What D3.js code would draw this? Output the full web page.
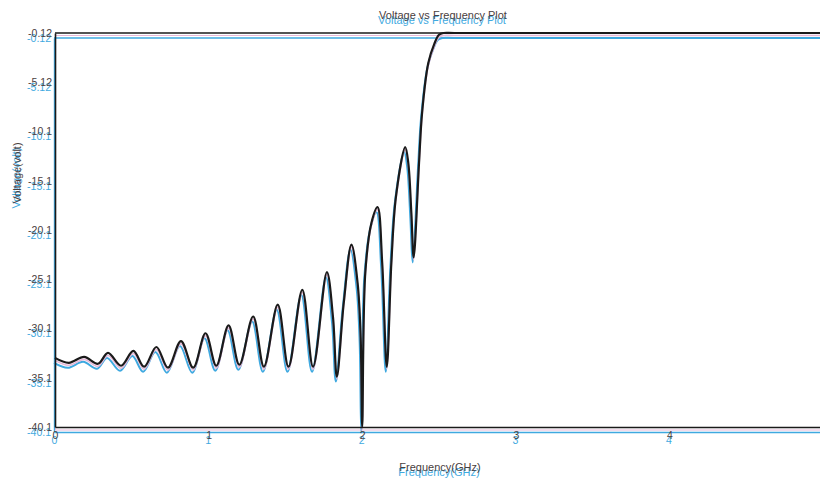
<!DOCTYPE html>
<html>
<head>
<meta charset="utf-8">
<script src="https://cdn.jsdelivr.net/npm/d3@7"></script>
<style>
  body { margin: 0; background: #fff; }
  text { font-family: "Liberation Sans Narrow", "Arial Narrow", "Liberation Sans", Arial, sans-serif; }
</style>
</head>
<body>
<svg id="chart"></svg>
<script>
const width = 820;
const height = 480;

// frequency (GHz) and voltage (volt)
const freq = [0, 0.09, 0.19, 0.28, 0.345, 0.43, 0.51, 0.58, 0.66, 0.735, 0.82, 0.90, 0.98, 1.05,
              1.13, 1.20, 1.29, 1.36, 1.45, 1.52, 1.61, 1.68, 1.77, 1.81, 1.835, 1.88, 1.93, 1.97,
              1.99, 2.00, 2.02, 2.06, 2.10, 2.13, 2.16, 2.19, 2.22, 2.28, 2.30, 2.32, 2.335, 2.37,
              2.39, 2.43, 2.47, 2.50, 2.53, 2.6, 5.0];
const volt = [-33.1, -33.6, -33.0, -33.7, -32.6, -33.9, -32.4, -34.0, -32.0, -34.1, -31.4, -34.1, -30.6, -33.9,
              -29.8, -33.8, -28.9, -34.0, -27.7, -34.0, -26.2, -34.0, -24.4, -29.0, -35.0, -27.5, -21.6, -25.5,
              -31.0, -40.1, -24.5, -19.4, -17.8, -23.4, -34.0, -23.4, -16.7, -11.7, -13.3, -18.4, -22.9, -13.3,
              -8.2, -3.2, -1.2, -0.3, -0.12, -0.12, -0.12];

const yTicks = [-0.12, -5.12, -10.12, -15.12, -20.12, -25.12, -30.12, -35.12, -40.12];
const yTickLabels = ['-0.12', '-5.12', '-10.1', '-15.1', '-20.1', '-25.1', '-30.1', '-35.1', '-40.1'];
const xTicks = [0, 1, 2, 3, 4];

const svg = d3.select('#chart').attr('width', width).attr('height', height);

const x = d3.scaleLinear().domain([0, 5]).range([55, 823]);
const y = d3.scaleLinear().domain([-40.12, -0.12]).range([427, 33]);

const line = d3.line()
    .x((d, i) => x(freq[i]))
    .y(d => y(d))
    .curve(d3.curveCatmullRom.alpha(0.5));

// the scan is misregistered: a cyan copy sits a few pixels under the dark print
function drawLayer(dx, dy, lineColor, textColor, lw, withText) {
    const g = svg.append('g').attr('transform', `translate(${dx},${dy})`);

    // top frame line
    g.append('line')
        .attr('x1', x(0)).attr('x2', width + 5)
        .attr('y1', y(-0.12)).attr('y2', y(-0.12))
        .attr('stroke', lineColor).attr('stroke-width', lw);

    const yAxis = g.append('g').attr('transform', `translate(${x(0)},0)`)
        .call(d3.axisLeft(y).tickValues(yTicks).tickFormat((d, i) => withText ? yTickLabels[i] : '')
            .tickSize(0).tickPadding(3));
    yAxis.select('.domain').attr('stroke', lineColor).attr('stroke-width', lw);
    yAxis.selectAll('text').attr('fill', textColor).attr('font-size', 10.5)
        .attr('font-family', null);

    const xAxis = g.append('g').attr('transform', `translate(0,${y(-40.12)})`)
        .call(d3.axisBottom(x).tickValues(xTicks).tickFormat(d => withText ? d3.format('d')(d) : '')
            .tickSize(0).tickPadding(5));
    xAxis.select('.domain').attr('stroke', lineColor).attr('stroke-width', lw);
    xAxis.selectAll('text').attr('fill', textColor).attr('font-size', 10.5)
        .attr('font-family', null);

    g.append('path')
        .datum(volt)
        .attr('fill', 'none')
        .attr('stroke', lineColor)
        .attr('stroke-width', lw + 0.6)
        .attr('stroke-linejoin', 'round')
        .attr('d', line);

    if (!withText) return;

    g.append('text')
        .attr('x', 443).attr('y', 19)
        .attr('text-anchor', 'middle')
        .attr('font-size', 11)
        .attr('fill', textColor)
        .text('Voltage vs Frequency Plot');

    g.append('text')
        .attr('transform', 'translate(21,173) rotate(-90)')
        .attr('text-anchor', 'middle')
        .attr('font-size', 11)
        .attr('fill', textColor)
        .text('Voltage(volt)');

    g.append('text')
        .attr('x', 440).attr('y', 471)
        .attr('text-anchor', 'middle')
        .attr('font-size', 11)
        .attr('fill', textColor)
        .text('Frequency(GHz)');
}

drawLayer(-1, 5, '#3fa9e0', '#3fa9e0', 1.4, true);
drawLayer(0, 2.5, '#e6b8d8', '#e6b8d8', 1, false);
drawLayer(0, 0, '#1a1a1a', '#4a4040', 1.6, true);
</script>
</body>
</html>
